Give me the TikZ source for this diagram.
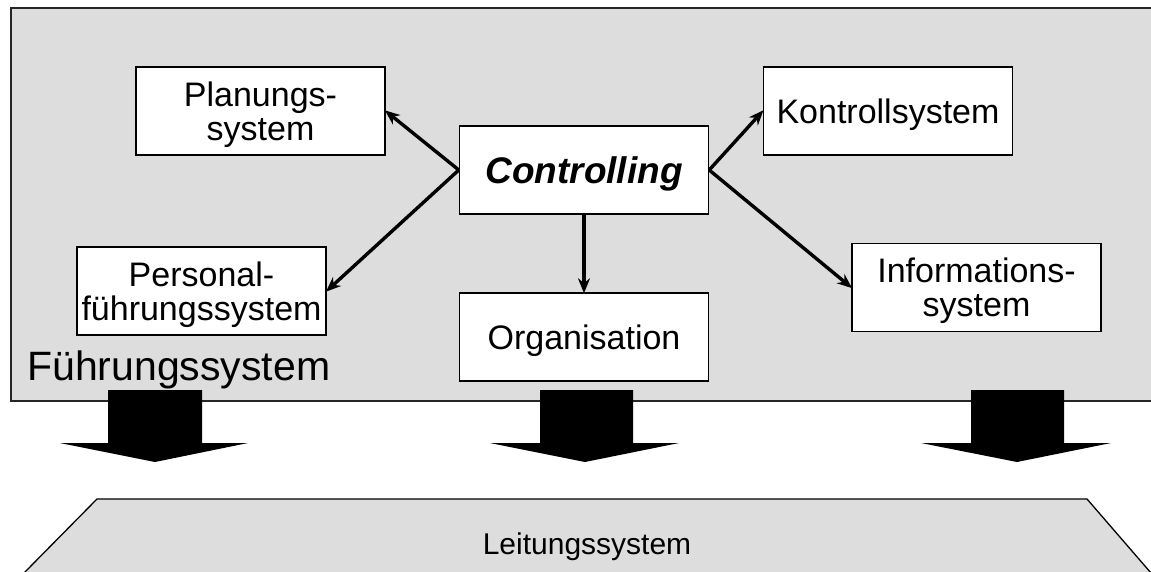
\documentclass[tikz,border=0pt]{standalone}
\usepackage{fontspec}
\setmainfont{Liberation Sans}
\usetikzlibrary{arrows.meta}
\definecolor{panel}{HTML}{DDDDDD}
\tikzset{
  sysbox/.style={draw=black, line width=1.4pt, fill=white, minimum width=249pt, minimum height=88pt, inner sep=0pt, align=center, text depth=0pt, font=\fontsize{34}{34}\selectfont},
  link/.style={line width=3.4pt, -{Stealth[length=15pt, width=12pt]}, shorten >=-1pt},
  blockarrow/.style={fill=black},
  frameline/.style={draw=black!85, line width=1.5pt}
}
\begin{document}
\begin{tikzpicture}[x=1pt, y=-1pt]
\useasboundingbox (0,0) rectangle (1151,572);
% Fuehrungssystem panel
\fill[panel] (11,8) rectangle (1151,401);
\draw[frameline] (1151,8) -- (11,8) -- (11,401) -- (1151,401);
% boxes
\node[sysbox] (plan) at (260.5,111) {Planungs-\\system};
\node[sysbox] (pers) at (201.5,291) {Personal-\\führungssystem};
\node[sysbox, font=\fontsize{37}{37}\selectfont\bfseries\itshape] (ctrl) at (584,170) {Controlling};
\node[sysbox] (orga) at (584,337) {Organisation};
\node[sysbox] (kont) at (888,111) {Kontrollsystem};
\node[sysbox] (info) at (976.5,287.5) {Informations-\\system};
% connectors
\draw[link] (ctrl.west) -- (plan.east);
\draw[link] (ctrl.west) -- (pers.east);
\draw[link] (ctrl.east) -- (kont.west);
\draw[link] (ctrl.east) -- (info.west);
\draw[link] (ctrl.south) -- (orga.north);
% label
\node[anchor=base west, inner sep=0pt, font=\fontsize{41}{41}\selectfont] (fs) at (27,380) {Führungssystem};
% block arrows
\fill[blockarrow] (108,390) -- (202,390) -- (202,443) -- (248,443) -- (155,462) -- (60,443) -- (108,443) -- cycle;
\fill[blockarrow] (540,390) -- (633,390) -- (633,443) -- (679,443) -- (585,462) -- (490,443) -- (540,443) -- cycle;
\fill[blockarrow] (971,390) -- (1064,390) -- (1064,443) -- (1111,443) -- (1017,462) -- (921,443) -- (971,443) -- cycle;
% Leitungssystem
\fill[panel] (97,499) -- (1087,499) -- (1151,573) -- (24,573) -- cycle;
\draw[line width=1.3pt] (24,573) -- (97,499) -- (1087,499) -- (1151,573);
\node[inner sep=0pt, anchor=base, font=\fontsize{30}{30}\selectfont] (leit) at (587,554) {Leitungssystem};
\end{tikzpicture}
\end{document}
